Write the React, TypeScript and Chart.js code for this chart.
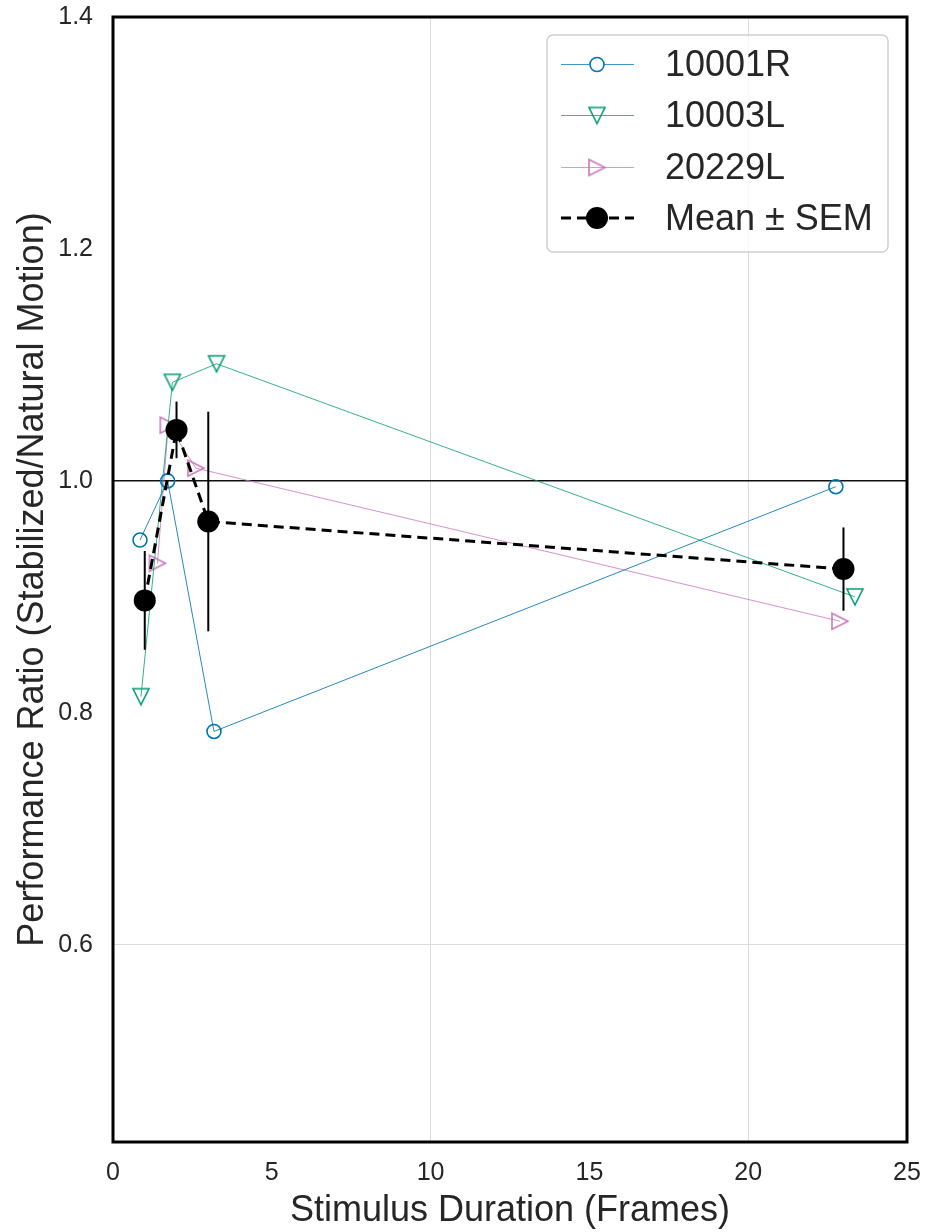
import { useEffect, useRef } from 'react';
import { Chart, registerables } from 'chart.js';

Chart.register(...registerables);

// ---- data ----
const seriesNames = ['10001R', '10003L', '20229L'];
const x10001R = [0.85, 1.72, 3.18, 22.76];
const y10001R = [0.949, 1.0, 0.784, 0.995];
const x10003L = [0.88, 1.87, 3.26, 23.36];
const y10003L = [0.814, 1.085, 1.101, 0.9];
const x20229L = [1.4, 1.74, 2.61, 22.89];
const y20229L = [0.929, 1.048, 1.011, 0.879];
const meanLabel = 'Mean ± SEM';
const meanX = [1, 2, 3, 23];
const meanY = [0.897, 1.044, 0.965, 0.924];
const meanSEM = [0.0426, 0.0244, 0.0947, 0.0359];
const xTicks = [0, 5, 10, 15, 20, 25];
const yTicks = [0.6, 0.8, 1.0, 1.2, 1.4];
const xTitle = 'Stimulus Duration (Frames)';
const yTitle = 'Performance Ratio (Stabilized/Natural Motion)';

const FONT = "'Liberation Sans', Arial, Helvetica, sans-serif";
const TEXT = '#262626';
const colors = ['#0173B2', '#029E73', '#CC78BC'];
const lineColors = ['rgba(1,115,178,0.85)', 'rgba(2,158,115,0.8)', 'rgba(204,120,188,0.8)'];

function makeTriangle(dir: 'down' | 'right', color: string): HTMLCanvasElement {
  const s = 8;
  const size = 2 * s + 4;
  const c = document.createElement('canvas');
  c.width = size;
  c.height = size;
  const ctx = c.getContext('2d')!;
  ctx.translate(size / 2, size / 2);
  ctx.beginPath();
  if (dir === 'down') {
    ctx.moveTo(-s, -s);
    ctx.lineTo(s, -s);
    ctx.lineTo(0, s);
  } else {
    ctx.moveTo(-s, -s);
    ctx.lineTo(s, 0);
    ctx.lineTo(-s, s);
  }
  ctx.closePath();
  ctx.strokeStyle = color;
  ctx.lineWidth = 1.6;
  ctx.lineJoin = 'miter';
  ctx.stroke();
  return c;
}

export default function App() {
  const ref = useRef<HTMLCanvasElement>(null);

  useEffect(() => {
    document.body.style.margin = '0';
    const triDown = makeTriangle('down', colors[1]);
    const triRight = makeTriangle('right', colors[2]);
    const styles: any[] = ['circle', triDown, triRight];
    const xs = [x10001R, x10003L, x20229L];
    const ys = [y10001R, y10003L, y20229L];

    const subjectSets = seriesNames.map((name, k) => ({
      type: 'line' as const,
      label: name,
      data: xs[k].map((x, i) => ({ x, y: ys[k][i] })),
      borderColor: lineColors[k],
      borderWidth: 1,
      fill: false,
      tension: 0,
      pointStyle: styles[k],
      pointRadius: 7,
      pointHoverRadius: 7,
      pointBorderColor: colors[k],
      pointBackgroundColor: 'rgba(255,255,255,0)',
      pointBorderWidth: 1.6,
      order: k + 1,
    }));

    const meanSet = {
      type: 'line' as const,
      label: meanLabel,
      data: meanX.map((x, i) => ({ x, y: meanY[i] })),
      borderColor: '#000',
      borderWidth: 3,
      borderDash: [10, 6],
      fill: false,
      tension: 0,
      pointStyle: 'circle',
      pointRadius: 11,
      pointHoverRadius: 11,
      pointBackgroundColor: '#000',
      pointBorderColor: '#000',
      pointBorderWidth: 0,
      order: 0,
    };

    const errorBars = {
      id: 'errorBars',
      afterDatasetsDraw(chart: any) {
        const { ctx, scales } = chart;
        ctx.save();
        ctx.strokeStyle = '#000';
        ctx.lineWidth = 2;
        meanX.forEach((x, i) => {
          const px = scales.x.getPixelForValue(x);
          const y1 = scales.y.getPixelForValue(meanY[i] - meanSEM[i]);
          const y2 = scales.y.getPixelForValue(meanY[i] + meanSEM[i]);
          ctx.beginPath();
          ctx.moveTo(px, y1);
          ctx.lineTo(px, y2);
          ctx.stroke();
        });
        ctx.restore();
      },
    };

    const frameAndLegend = {
      id: 'frameAndLegend',
      afterDraw(chart: any) {
        const { ctx, chartArea } = chart;
        ctx.save();
        // frame
        ctx.strokeStyle = '#000';
        ctx.lineWidth = 3;
        ctx.strokeRect(chartArea.left, chartArea.top, chartArea.right - chartArea.left, chartArea.bottom - chartArea.top);

        // legend
        const lx = 547, ly = 35, lw = 341, lh = 217;
        ctx.beginPath();
        ctx.roundRect(lx, ly, lw, lh, 6);
        ctx.fillStyle = 'rgba(255,255,255,0.8)';
        ctx.fill();
        ctx.strokeStyle = '#d0d0d0';
        ctx.lineWidth = 1.5;
        ctx.stroke();

        const rows = [64, 115, 167, 218];
        const x0 = 561, x1 = 634, mx = 597, tx = 665;
        const labels = [...seriesNames, meanLabel];
        ctx.font = `36px ${FONT}`;
        ctx.textBaseline = 'middle';
        ctx.textAlign = 'left';
        labels.forEach((label, k) => {
          const y = rows[k];
          ctx.beginPath();
          if (k < 3) {
            ctx.strokeStyle = colors[k];
            ctx.globalAlpha = 0.75;
            ctx.lineWidth = 1;
            ctx.setLineDash([]);
            ctx.moveTo(x0, y + 0.5);
            ctx.lineTo(x1, y + 0.5);
          } else {
            ctx.strokeStyle = '#000';
            ctx.lineWidth = 3;
            ctx.setLineDash([10, 6]);
            ctx.moveTo(x0, y);
            ctx.lineTo(x1, y);
          }
          ctx.stroke();
          ctx.globalAlpha = 1;
          ctx.setLineDash([]);
          if (k === 0) {
            ctx.beginPath();
            ctx.arc(mx, y + 0.5, 7, 0, Math.PI * 2);
            ctx.fillStyle = '#fff';
            ctx.fill();
            ctx.strokeStyle = colors[0];
            ctx.lineWidth = 1.6;
            ctx.stroke();
          } else if (k === 1 || k === 2) {
            const img = k === 1 ? triDown : triRight;
            ctx.drawImage(img, mx - img.width / 2, y + 0.5 - img.height / 2);
          } else {
            ctx.beginPath();
            ctx.arc(mx, y, 11, 0, Math.PI * 2);
            ctx.fillStyle = '#000';
            ctx.fill();
          }
          ctx.fillStyle = TEXT;
          ctx.fillText(label, tx, y + 2);
        });
        ctx.restore();
      },
    };

    const chart = new Chart(ref.current!, {
      type: 'line',
      data: { datasets: [...subjectSets, meanSet] as any },
      options: {
        responsive: false,
        animation: false,
        devicePixelRatio: 1,
        layout: { padding: { top: 17, right: 20, left: 0, bottom: 0 } },
        plugins: {
          legend: { display: false },
          tooltip: { enabled: false },
        },
        scales: {
          x: {
            type: 'linear',
            min: 0,
            max: 25,
            afterBuildTicks: (s: any) => {
              s.ticks = xTicks.map((v) => ({ value: v }));
            },
            afterFit: (s: any) => {
              s.height = 90;
              s.paddingLeft = 0;
              s.paddingRight = 0;
            },
            border: { display: false },
            grid: {
              drawTicks: false,
              color: (c: any) => (c.tick && c.tick.value % 10 === 0 ? '#dcdcdc' : 'rgba(0,0,0,0)'),
              lineWidth: 1,
            },
            ticks: {
              color: TEXT,
              font: { family: FONT, size: 25 },
              padding: 16,
              maxRotation: 0,
              callback: (v: any) => String(v),
            },
            title: {
              display: true,
              text: xTitle,
              color: TEXT,
              font: { family: FONT, size: 36, lineHeight: 1 },
              padding: { top: 0, bottom: 3 },
            },
          },
          y: {
            type: 'linear',
            min: 0.43,
            max: 1.4,
            afterBuildTicks: (s: any) => {
              s.ticks = yTicks.map((v) => ({ value: v }));
            },
            afterFit: (s: any) => {
              s.width = 113;
              s.paddingTop = 0;
              s.paddingBottom = 0;
            },
            border: { display: false },
            grid: {
              drawTicks: false,
              color: (c: any) => {
                const v = c.tick ? Math.round(c.tick.value * 10) / 10 : -1;
                if (v === 1.0) return '#111';
                if (v === 0.6 || v === 1.4) return '#dcdcdc';
                return 'rgba(0,0,0,0)';
              },
              lineWidth: (c: any) => {
                const v = c.tick ? Math.round(c.tick.value * 10) / 10 : -1;
                return v === 1.0 ? 1.6 : 1;
              },
            },
            ticks: {
              color: TEXT,
              font: { family: FONT, size: 25 },
              padding: 20,
              callback: (v: any) => Number(v).toFixed(1),
            },
            title: {
              display: true,
              text: yTitle,
              color: TEXT,
              font: { family: FONT, size: 36, lineHeight: 1 },
              padding: { top: 15, bottom: 0 },
            },
          },
        },
      },
      plugins: [errorBars, frameAndLegend],
    });
    return () => chart.destroy();
  }, []);

  return (
    <div style={{ position: 'absolute', left: 0, top: 0, width: 927, height: 1232, background: '#fff' }}>
      <canvas ref={ref} width={927} height={1232} style={{ width: 927, height: 1232, display: 'block' }} />
    </div>
  );
}
